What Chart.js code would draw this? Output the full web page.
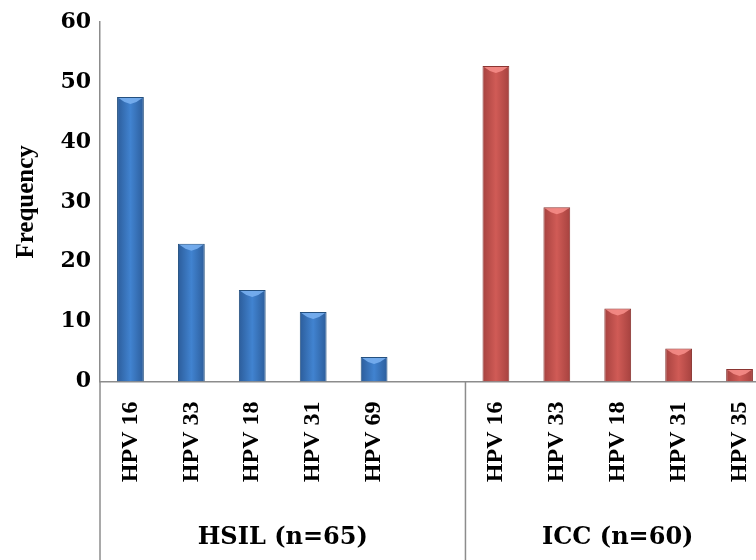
<!DOCTYPE html>
<html>
<head>
<meta charset="utf-8">
<script src="https://cdn.jsdelivr.net/npm/chart.js@4.4.1/dist/chart.umd.min.js"></script>
<style>
  html, body { margin: 0; padding: 0; background: #fff; }
  #wrap { position: relative; width: 756px; height: 560px; overflow: hidden; }
  #hpv-chart { position: absolute; left: 0; top: 0; }
</style>
</head>
<body>
<div id="wrap"><canvas id="hpv-chart" width="770" height="560"></canvas></div>
<script>
// values (percent frequency)
var hsilTypes = ["HPV 16", "HPV 33", "HPV 18", "HPV 31", "HPV 69"];
var hsilFreq = [47.5, 23, 15.3, 11.6, 4.1];
var iccTypes = ["HPV 16", "HPV 33", "HPV 18", "HPV 31", "HPV 35"];
var iccFreq = [52.7, 29.1, 12.2, 5.5, 2.1];
var groupNames = ["HSIL (n=65)", "ICC (n=60)"];
var groupSlots = [6, 5];   // HSIL has one empty slot after it

var labels = hsilTypes.concat([""]).concat(iccTypes);
var hsilData = hsilFreq.concat([null, null, null, null, null, null]);
var iccData = [null, null, null, null, null, null].concat(iccFreq);

function barFill(edge, mid) {
	return function(c) {
		var chart = c.chart;
		var xs = chart.scales.x;
		if (!chart.chartArea || !xs) return mid;
		var cx = xs.getPixelForValue(c.dataIndex);
		var half = (xs.width / labels.length) * 0.44 / 2;
		var g = chart.ctx.createLinearGradient(cx - half, 0, cx + half, 0);
		g.addColorStop(0, edge);
		g.addColorStop(0.5, mid);
		g.addColorStop(1, edge);
		return g;
	};
}

// light chevron on top of each bar + group separators and names
var groupPlugin = {
	id: 'groups',
	afterDatasetsDraw: function(chart) {
		var ctx = chart.ctx;
		var tops = ["rgba(120,175,240,0.9)", "rgba(245,140,135,0.9)"];
		chart.data.datasets.forEach(function(ds, i) {
			chart.getDatasetMeta(i).data.forEach(function(bar, j) {
				if (ds.data[j] == null) return;
				var w = bar.width / 2 - 1.5;
				ctx.save();
				ctx.fillStyle = tops[i];
				ctx.beginPath();
				ctx.moveTo(bar.x - w, bar.y + 1);
				ctx.lineTo(bar.x + w, bar.y + 1);
				ctx.lineTo(bar.x + w * 0.5, bar.y + 5);
				ctx.lineTo(bar.x, bar.y + 7);
				ctx.lineTo(bar.x - w * 0.5, bar.y + 5);
				ctx.closePath();
				ctx.fill();
				ctx.restore();
			});
		});
	},
	afterDraw: function(chart) {
		var ctx = chart.ctx;
		var xs = chart.scales.x;
		var slot = xs.width / labels.length;
		var start = xs.left;
		ctx.save();
		ctx.strokeStyle = "#8c8c8c";
		ctx.lineWidth = 1.5;
		ctx.fillStyle = "#000";
		ctx.font = "bold 24px 'DejaVu Serif'";
		ctx.textAlign = "center";
		ctx.textBaseline = "middle";
		groupNames.forEach(function(name, i) {
			var end = start + groupSlots[i] * slot;
			ctx.beginPath();
			ctx.moveTo(start, chart.chartArea.bottom);
			ctx.lineTo(start, chart.height);
			ctx.stroke();
			ctx.fillText(name, (start + end) / 2, 538);
			start = end;
		});
		ctx.restore();
	}
};

new Chart(document.getElementById("hpv-chart"), {
	type: 'bar',
	data: {
		labels: labels,
		datasets: [{
			label: "HSIL",
			data: hsilData,
			backgroundColor: barFill("#2c5d9b", "#4183d0"),
			borderColor: "#24507f",
			borderWidth: 1
		}, {
			label: "ICC",
			data: iccData,
			backgroundColor: barFill("#a6423f", "#d05b56"),
			borderColor: "#8a3532",
			borderWidth: 1
		}]
	},
	options: {
		responsive: false,
		animation: false,
		layout: { padding: { top: 22, right: 0, left: 0, bottom: 0 } },
		datasets: { bar: { grouped: false, barPercentage: 0.44, categoryPercentage: 1 } },
		plugins: {
			legend: { display: false },
			tooltip: { enabled: false }
		},
		scales: {
			x: {
				grid: { display: false, drawTicks: false },
				border: { display: true, color: "#8c8c8c", width: 1.5 },
				ticks: {
					minRotation: 90,
					maxRotation: 90,
					autoSkip: false,
					padding: 20,
					color: "#000",
					font: { family: "'Liberation Serif'", size: 24, weight: 'bold' }
				},
				afterFit: function(s) {
					s.height = 178.5;
					s.paddingLeft = 0;
					s.paddingRight = 0;
				}
			},
			y: {
				min: 0,
				max: 60,
				grid: { display: false, drawTicks: false },
				border: { display: true, color: "#8c8c8c", width: 1.5 },
				ticks: {
					stepSize: 10,
					padding: 9,
					color: "#000",
					font: { family: "'DejaVu Serif'", size: 22, weight: 'bold' }
				},
				title: {
					display: true,
					text: "Frequency",
					color: "#000",
					padding: { top: 12, bottom: 0 },
					font: { family: "'Liberation Serif'", size: 25, weight: 'bold' }
				},
				afterFit: function(s) { s.width = 100; }
			}
		}
	},
	plugins: [groupPlugin]
});
</script>
</body>
</html>
